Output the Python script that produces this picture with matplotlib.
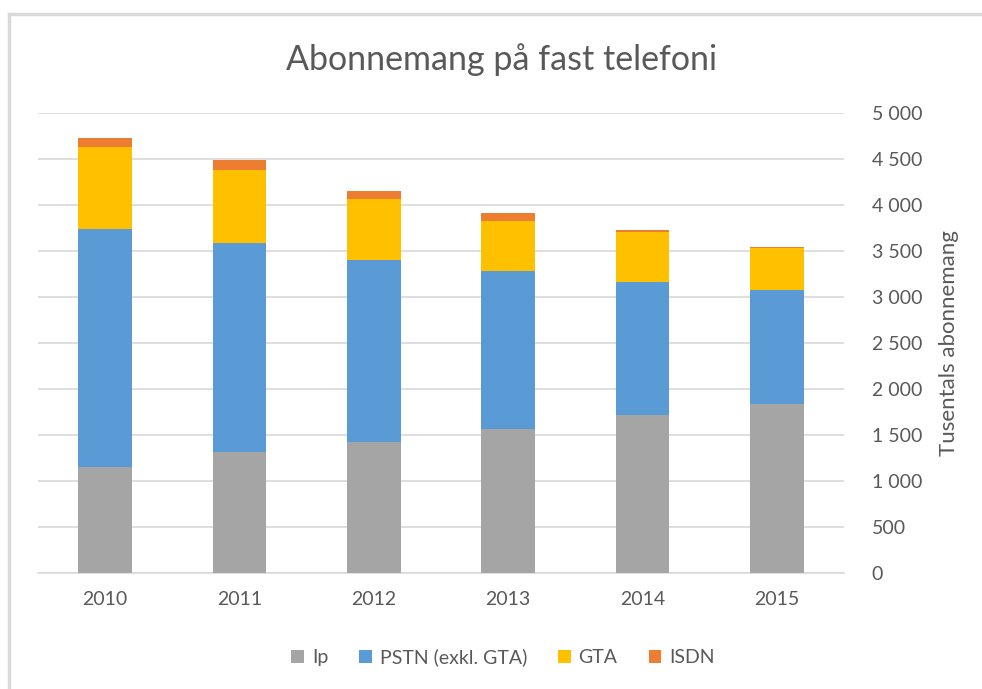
import matplotlib
matplotlib.use("Agg")
import matplotlib.pyplot as plt
from matplotlib.lines import Line2D
from matplotlib.patches import Patch
import numpy as np

plt.rcParams['font.family'] = ['Lato', 'DejaVu Sans']

# data (tusentals abonnemang)
years = ['2010', '2011', '2012', '2013', '2014', '2015']
ip = [1156, 1312, 1421, 1562, 1715, 1840]
pstn = [2586, 2275, 1984, 1720, 1445, 1236]
gta = [884, 793, 663, 541, 542, 452]
isdn = [102, 113, 87, 93, 23, 19]

series = [
    ('Ip', ip, '#A5A5A5'),
    ('PSTN (exkl. GTA)', pstn, '#5B9BD5'),
    ('GTA', gta, '#FFC000'),
    ('ISDN', isdn, '#ED7D31'),
]

text_col = '#595959'

fig = plt.figure(figsize=(9.82, 6.89), dpi=100, facecolor='white')
ax = fig.add_axes([38 / 982, 1 - 573 / 689, (844 - 38) / 982, (573 - 113) / 689])

x = np.arange(len(years))
bottom = np.zeros(len(years))
for name, vals, col in series:
    ax.bar(x, vals, bottom=bottom, width=0.4, color=col, label=name, zorder=3)
    bottom += np.array(vals)

ax.set_xlim(-0.5, len(years) - 0.5)
ax.set_ylim(0, 5000)
ax.set_yticks(np.arange(0, 5001, 500))
ax.set_yticklabels([f'{v:,}'.replace(',', ' ') for v in range(0, 5001, 500)])
ax.set_xticks(x)
ax.set_xticklabels(years)

ax.yaxis.tick_right()
ax.yaxis.set_label_position('right')
ax.tick_params(axis='y', length=0, pad=20, labelsize=14, labelcolor=text_col)
ax.tick_params(axis='x', length=0, pad=13, labelsize=14, labelcolor=text_col)
ax.grid(axis='y', color='#D9D9D9', linewidth=1.2, zorder=0)
for s in ['top', 'right', 'left']:
    ax.spines[s].set_visible(False)
ax.spines['bottom'].set_color('#D9D9D9')
ax.spines['bottom'].set_linewidth(1.2)

ax.set_ylabel('Tusentals abonnemang', fontsize=16, color=text_col, labelpad=12)

fig.text(502 / 982, 1 - 60 / 689, 'Abonnemang på fast telefoni',
         ha='center', va='center', fontsize=24.5, color=text_col)

handles = [Patch(facecolor=c, edgecolor='none') for _, _, c in series]
fig.legend(handles, [n for n, _, _ in series], loc='center',
           bbox_to_anchor=(503 / 982, 1 - 657 / 689), ncol=4, frameon=False,
           fontsize=14, labelcolor=text_col, handlelength=0.65, handleheight=0.65,
           handletextpad=0.4, columnspacing=1.6)

# chart border (left and top edges visible)
fig.add_artist(Line2D([9 / 982, 9 / 982], [0, 1 - 14 / 689], color='#D9D9D9',
                      linewidth=2.5, transform=fig.transFigure))
fig.add_artist(Line2D([9 / 982, 1], [1 - 14 / 689, 1 - 14 / 689], color='#D9D9D9',
                      linewidth=2.5, transform=fig.transFigure))

fig.savefig('out.png', dpi=100, facecolor='white')
